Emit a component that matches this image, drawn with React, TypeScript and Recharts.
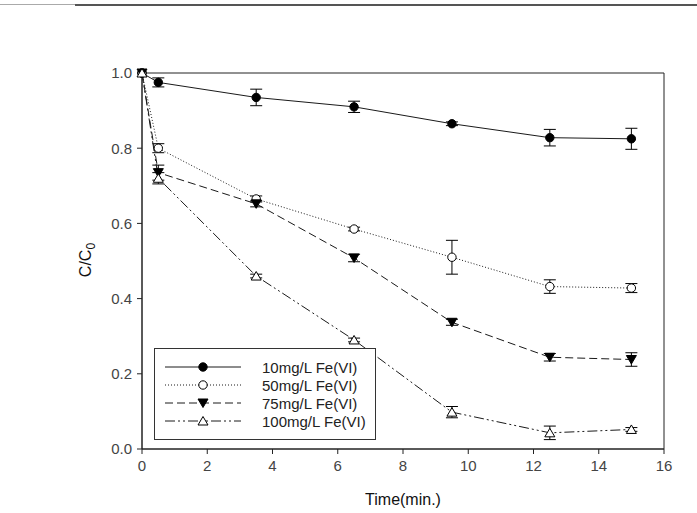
import React from 'react';
import { LineChart, Line, XAxis, YAxis, ErrorBar, ReferenceArea } from 'recharts';

const times = [0, 0.5, 3.5, 6.5, 9.5, 12.5, 15];
const c10 = [1.0, 0.975, 0.935, 0.91, 0.865, 0.828, 0.825];
const e10 = [null, 0.012, 0.022, 0.015, 0.005, 0.022, 0.028];
const c50 = [1.0, 0.80, 0.665, 0.585, 0.51, 0.432, 0.428];
const e50 = [null, 0.012, 0.008, 0.005, 0.045, 0.018, 0.012];
const c75 = [1.0, 0.735, 0.652, 0.508, 0.337, 0.244, 0.238];
const e75 = [null, 0.02, 0.008, 0.01, 0.008, 0.01, 0.018];
const c100 = [1.0, 0.72, 0.46, 0.29, 0.098, 0.043, 0.052];
const e100 = [null, 0.015, 0.005, 0.005, 0.015, 0.018, 0.005];

const xTicks = [0, 2, 4, 6, 8, 10, 12, 14, 16];
const yTicks = [0, 0.2, 0.4, 0.6, 0.8, 1.0];
const seriesNames = ['10mg/L Fe(VI)', '50mg/L Fe(VI)', '75mg/L Fe(VI)', '100mg/L Fe(VI)'];

const data = times.map((t, i) => ({
  t,
  c10: c10[i], e10: e10[i],
  c50: c50[i], e50: e50[i],
  c75: c75[i], e75: e75[i],
  c100: c100[i], e100: e100[i],
}));

const FONT = '"Liberation Sans", Arial, sans-serif';
const LINE = '#1a1a1a';

const dash = ['', '1 2', '8 4', '10 3 2 3 2 3'];

function Marker({ kind, cx, cy }: { kind: number; cx: number; cy: number }) {
  if (cx == null || cy == null) return null;
  if (kind === 0) return <circle cx={cx} cy={cy} r={4.2} fill="#000" stroke="#000" />;
  if (kind === 1) return <circle cx={cx} cy={cy} r={4.2} fill="#fff" stroke="#000" strokeWidth={1} />;
  if (kind === 2) {
    const s = 5;
    return <polygon points={`${cx - s},${cy - s * 0.8} ${cx + s},${cy - s * 0.8} ${cx},${cy + s * 0.9}`} fill="#000" stroke="#000" />;
  }
  const s = 5;
  return <polygon points={`${cx - s},${cy + s * 0.8} ${cx + s},${cy + s * 0.8} ${cx},${cy - s * 0.9}`} fill="#fff" stroke="#000" />;
}

const makeDot = (kind: number) => (props: any) => (
  <Marker key={`${kind}-${props.index}`} kind={kind} cx={props.cx} cy={props.cy} />
);

function LegendBox() {
  return (
    <div style={{ position: 'absolute', left: 154, top: 348, width: 222, height: 92, border: '1px solid #333', boxSizing: 'border-box', background: '#fff', fontFamily: FONT, fontSize: 15, color: '#222' }}>
      {seriesNames.map((name, i) => (
        <div key={name} style={{ display: 'flex', alignItems: 'center', height: 18, marginTop: i === 0 ? 9 : 0 }}>
          <svg width={97} height={18} style={{ marginLeft: 10 }}>
            <line x1={0} y1={9} x2={76} y2={9} stroke={LINE} strokeWidth={1} strokeDasharray={dash[i]} />
            <Marker kind={i} cx={38} cy={9} />
          </svg>
          <span>{name}</span>
        </div>
      ))}
    </div>
  );
}

const keys = ['c10', 'c50', 'c75', 'c100'];
const ekeys = ['e10', 'e50', 'e75', 'e100'];

export default function App() {
  return (
    <div style={{ position: 'absolute', left: 0, top: 0, width: 697, height: 513, background: '#fff' }}>
      <div style={{ position: 'absolute', left: 0, top: 4, width: 697, height: 0, borderTop: '1px solid #aaa' }} />
      <div style={{ position: 'absolute', left: 75, top: 4, width: 622, height: 0, borderTop: '2px solid #555' }} />
      <LineChart width={697} height={513} data={data} margin={{ top: 73, right: 33, bottom: 0, left: 0 }}>
        <XAxis
          dataKey="t"
          type="number"
          domain={[0, 16]}
          ticks={xTicks}
          tickSize={5}
          height={64}
          stroke="#222"
          tick={{ fill: '#444', fontSize: 15, fontFamily: FONT }}
          tickMargin={6}
          label={{ value: 'Time(min.)', position: 'insideBottom', offset: 8, fill: '#111', fontSize: 16, fontFamily: FONT }}
        />
        <YAxis
          type="number"
          domain={[0, 1]}
          ticks={yTicks}
          width={142}
          tickSize={5}
          stroke="#222"
          tickFormatter={(v: number) => v.toFixed(1)}
          tick={{ fill: '#444', fontSize: 15, fontFamily: FONT }}
          tickMargin={5}
          label={() => (
            <text x={0} y={0} transform="translate(91,260) rotate(-90)" textAnchor="middle" fill="#111" fontSize={16} fontFamily={FONT}>
              C/C<tspan dy={4} fontSize={12}>0</tspan>
            </text>
          )}
        />
        <ReferenceArea x1={0} x2={16} y1={0} y2={1} fill="none" stroke="#222" strokeWidth={1} ifOverflow="visible" />
        {keys.map((k, i) => (
          <Line
            key={k}
            dataKey={k}
            name={seriesNames[i]}
            stroke={LINE}
            strokeWidth={1}
            strokeDasharray={dash[i] || undefined}
            dot={makeDot(i)}
            activeDot={false}
            isAnimationActive={false}
          >
            <ErrorBar dataKey={ekeys[i]} width={6} stroke="#000" strokeWidth={1} direction="y" />
          </Line>
        ))}
      </LineChart>
      <LegendBox />
    </div>
  );
}
